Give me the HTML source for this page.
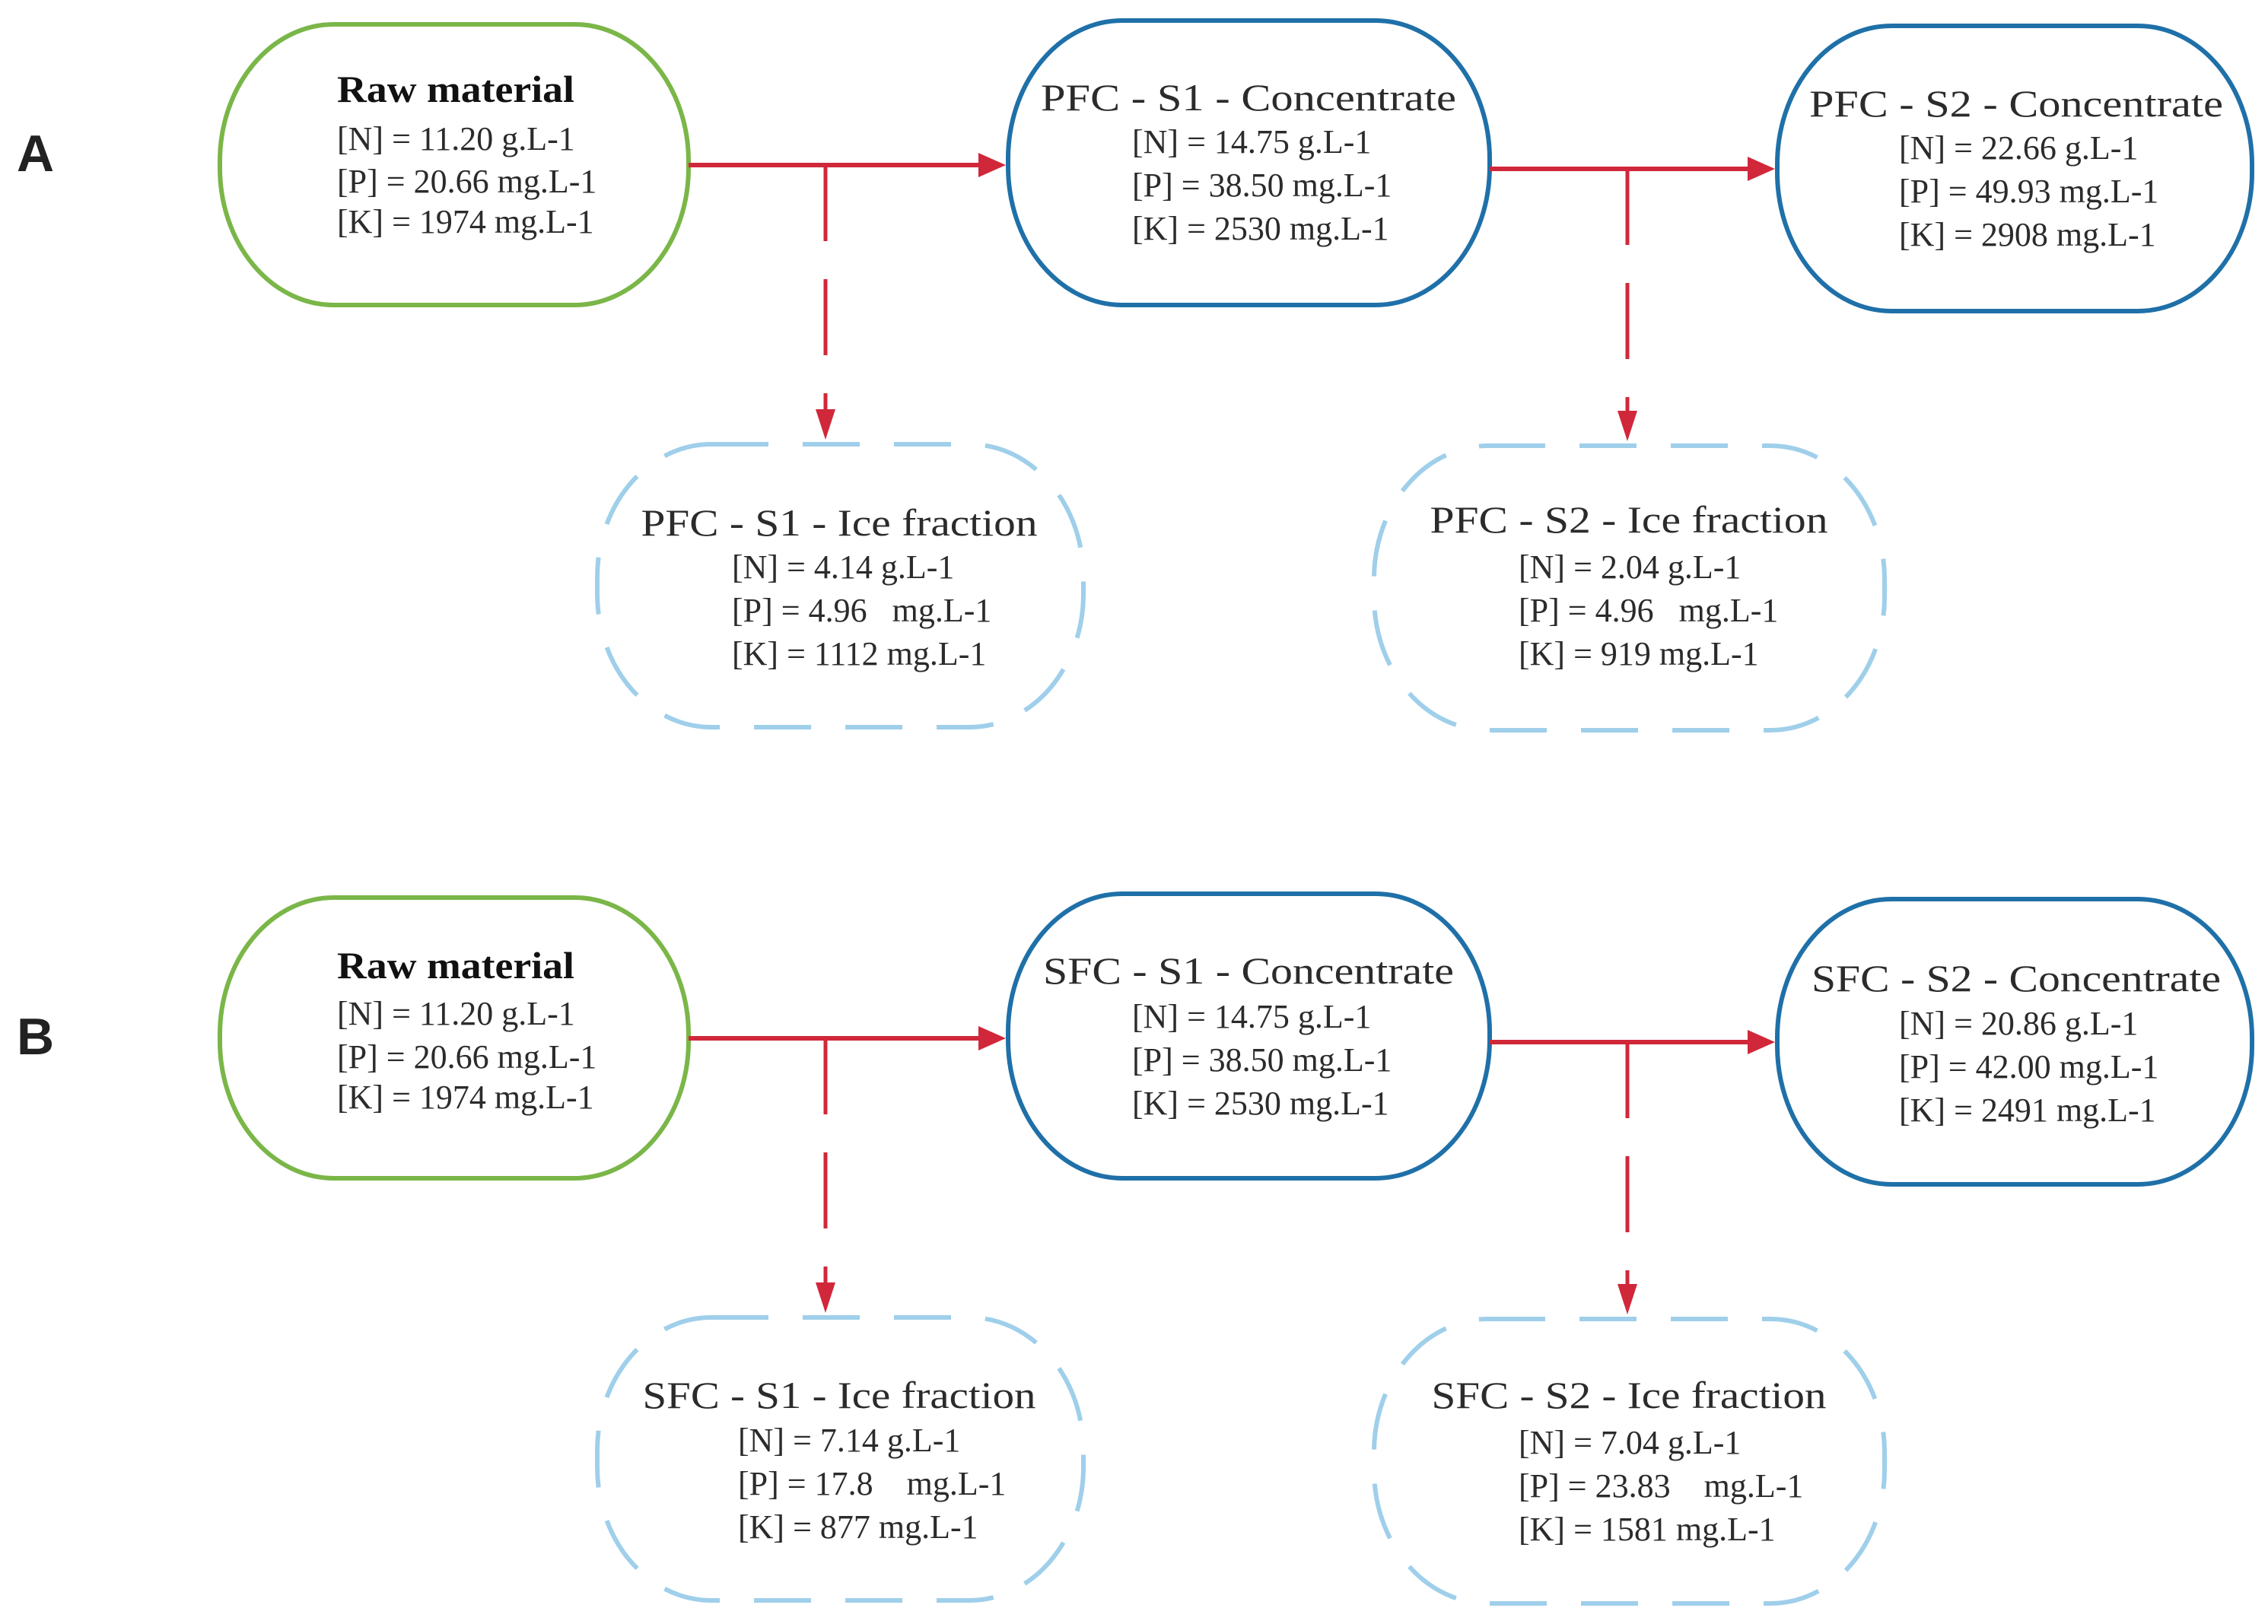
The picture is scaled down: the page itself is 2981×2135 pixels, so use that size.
<!DOCTYPE html>
<html><head><meta charset="utf-8"><style>
html,body{margin:0;padding:0;background:#fff;}
svg{display:block;}
text{font-family:"Liberation Serif",serif;fill:#2b2b2b;}
.t{font-size:50px;text-anchor:middle;}
.b{font-weight:bold;fill:#111;}
.l{font-size:44px;}
.lab{font-family:"Liberation Sans",sans-serif;font-weight:bold;font-size:68px;fill:#222;}
</style></head><body>
<svg width="2981" height="2135" viewBox="0 0 2981 2135" xmlns="http://www.w3.org/2000/svg">
<defs>
<marker id="ah" markerWidth="10" markerHeight="10" refX="9" refY="5" orient="auto" markerUnits="userSpaceOnUse" viewBox="0 0 10 10">
</marker>
</defs>
<g id="rowA">
<text class="lab" x="22" y="225">A</text>
<!-- nodes -->
<rect x="289" y="32" width="616" height="369" rx="150" ry="180" fill="none" stroke="#7ab648" stroke-width="6"/>
<rect x="1325" y="27" width="633" height="374" rx="150" ry="182" fill="none" stroke="#1f70a8" stroke-width="6"/>
<rect x="2336" y="34" width="624" height="375" rx="150" ry="182" fill="none" stroke="#1f70a8" stroke-width="6"/>
<rect x="785" y="584" width="639" height="372" rx="150" ry="175" fill="none" stroke="#9fcfea" stroke-width="6" stroke-dasharray="75 45"/>
<rect x="1806" y="586" width="671" height="374" rx="150" ry="175" fill="none" stroke="#9fcfea" stroke-width="6" stroke-dasharray="75 45"/>
<!-- connectors -->
<line x1="905" y1="217" x2="1290" y2="217" stroke="#d0283a" stroke-width="6"/>
<polygon points="1322,217 1286,201 1286,233" fill="#d0283a"/>
<line x1="1085" y1="217" x2="1085" y2="545" stroke="#d0283a" stroke-width="5" stroke-dasharray="100 50"/>
<polygon points="1085,578 1072,538 1098,538" fill="#d0283a"/>
<line x1="1958" y1="222" x2="2300" y2="222" stroke="#d0283a" stroke-width="6"/>
<polygon points="2333,222 2297,206 2297,238" fill="#d0283a"/>
<line x1="2139" y1="222" x2="2139" y2="545" stroke="#d0283a" stroke-width="5" stroke-dasharray="100 50"/>
<polygon points="2139,580 2126,540 2152,540" fill="#d0283a"/>
<!-- texts -->
<text class="t b" x="599" y="134" textLength="312" lengthAdjust="spacingAndGlyphs">Raw material</text>
<text class="l" x="443" y="197">[N] = 11.20 g.L-1</text>
<text class="l" x="443" y="253">[P] = 20.66 mg.L-1</text>
<text class="l" x="443" y="306">[K] = 1974 mg.L-1</text>

<text class="t" x="1641" y="145" textLength="546" lengthAdjust="spacingAndGlyphs">PFC - S1 - Concentrate</text>
<text class="l" x="1488" y="201">[N] = 14.75 g.L-1</text>
<text class="l" x="1488" y="258">[P] = 38.50 mg.L-1</text>
<text class="l" x="1488" y="315">[K] = 2530 mg.L-1</text>

<text class="t" x="2650" y="153" textLength="544" lengthAdjust="spacingAndGlyphs">PFC - S2 - Concentrate</text>
<text class="l" x="2496" y="209">[N] = 22.66 g.L-1</text>
<text class="l" x="2496" y="266">[P] = 49.93 mg.L-1</text>
<text class="l" x="2496" y="323">[K] = 2908 mg.L-1</text>

<text class="t" x="1103" y="704" textLength="521" lengthAdjust="spacingAndGlyphs">PFC - S1 - Ice fraction</text>
<text class="l" x="962" y="760">[N] = 4.14 g.L-1</text>
<text class="l" x="962" y="817">[P] = 4.96 &#160;&#160;mg.L-1</text>
<text class="l" x="962" y="874">[K] = 1112 mg.L-1</text>

<text class="t" x="2141" y="700" textLength="523" lengthAdjust="spacingAndGlyphs">PFC - S2 - Ice fraction</text>
<text class="l" x="1996" y="760">[N] = 2.04 g.L-1</text>
<text class="l" x="1996" y="817">[P] = 4.96 &#160;&#160;mg.L-1</text>
<text class="l" x="1996" y="874">[K] = 919 mg.L-1</text>
</g>

<g transform="translate(0,1148)">
<text class="lab" x="22" y="238">B</text>
<rect x="289" y="32" width="616" height="369" rx="150" ry="180" fill="none" stroke="#7ab648" stroke-width="6"/>
<rect x="1325" y="27" width="633" height="374" rx="150" ry="182" fill="none" stroke="#1f70a8" stroke-width="6"/>
<rect x="2336" y="34" width="624" height="375" rx="150" ry="182" fill="none" stroke="#1f70a8" stroke-width="6"/>
<rect x="785" y="584" width="639" height="372" rx="150" ry="175" fill="none" stroke="#9fcfea" stroke-width="6" stroke-dasharray="75 45"/>
<rect x="1806" y="586" width="671" height="374" rx="150" ry="175" fill="none" stroke="#9fcfea" stroke-width="6" stroke-dasharray="75 45"/>
<line x1="905" y1="217" x2="1290" y2="217" stroke="#d0283a" stroke-width="6"/>
<polygon points="1322,217 1286,201 1286,233" fill="#d0283a"/>
<line x1="1085" y1="217" x2="1085" y2="545" stroke="#d0283a" stroke-width="5" stroke-dasharray="100 50"/>
<polygon points="1085,578 1072,538 1098,538" fill="#d0283a"/>
<line x1="1958" y1="222" x2="2300" y2="222" stroke="#d0283a" stroke-width="6"/>
<polygon points="2333,222 2297,206 2297,238" fill="#d0283a"/>
<line x1="2139" y1="222" x2="2139" y2="545" stroke="#d0283a" stroke-width="5" stroke-dasharray="100 50"/>
<polygon points="2139,580 2126,540 2152,540" fill="#d0283a"/>

<text class="t b" x="599" y="138" textLength="312" lengthAdjust="spacingAndGlyphs">Raw material</text>
<text class="l" x="443" y="199">[N] = 11.20 g.L-1</text>
<text class="l" x="443" y="256">[P] = 20.66 mg.L-1</text>
<text class="l" x="443" y="309">[K] = 1974 mg.L-1</text>

<text class="t" x="1641" y="145" textLength="540" lengthAdjust="spacingAndGlyphs">SFC - S1 - Concentrate</text>
<text class="l" x="1488" y="203">[N] = 14.75 g.L-1</text>
<text class="l" x="1488" y="260">[P] = 38.50 mg.L-1</text>
<text class="l" x="1488" y="317">[K] = 2530 mg.L-1</text>

<text class="t" x="2650" y="155" textLength="538" lengthAdjust="spacingAndGlyphs">SFC - S2 - Concentrate</text>
<text class="l" x="2496" y="212">[N] = 20.86 g.L-1</text>
<text class="l" x="2496" y="269">[P] = 42.00 mg.L-1</text>
<text class="l" x="2496" y="326">[K] = 2491 mg.L-1</text>

<text class="t" x="1103" y="703" textLength="517" lengthAdjust="spacingAndGlyphs">SFC - S1 - Ice fraction</text>
<text class="l" x="970" y="760">[N] = 7.14 g.L-1</text>
<text class="l" x="970" y="817">[P] = 17.8 &#160;&#160;&#160;mg.L-1</text>
<text class="l" x="970" y="874">[K] = 877 mg.L-1</text>

<text class="t" x="2141" y="703" textLength="519" lengthAdjust="spacingAndGlyphs">SFC - S2 - Ice fraction</text>
<text class="l" x="1996" y="763">[N] = 7.04 g.L-1</text>
<text class="l" x="1996" y="820">[P] = 23.83 &#160;&#160;&#160;mg.L-1</text>
<text class="l" x="1996" y="877">[K] = 1581 mg.L-1</text>
</g>
</svg>
</body></html>
